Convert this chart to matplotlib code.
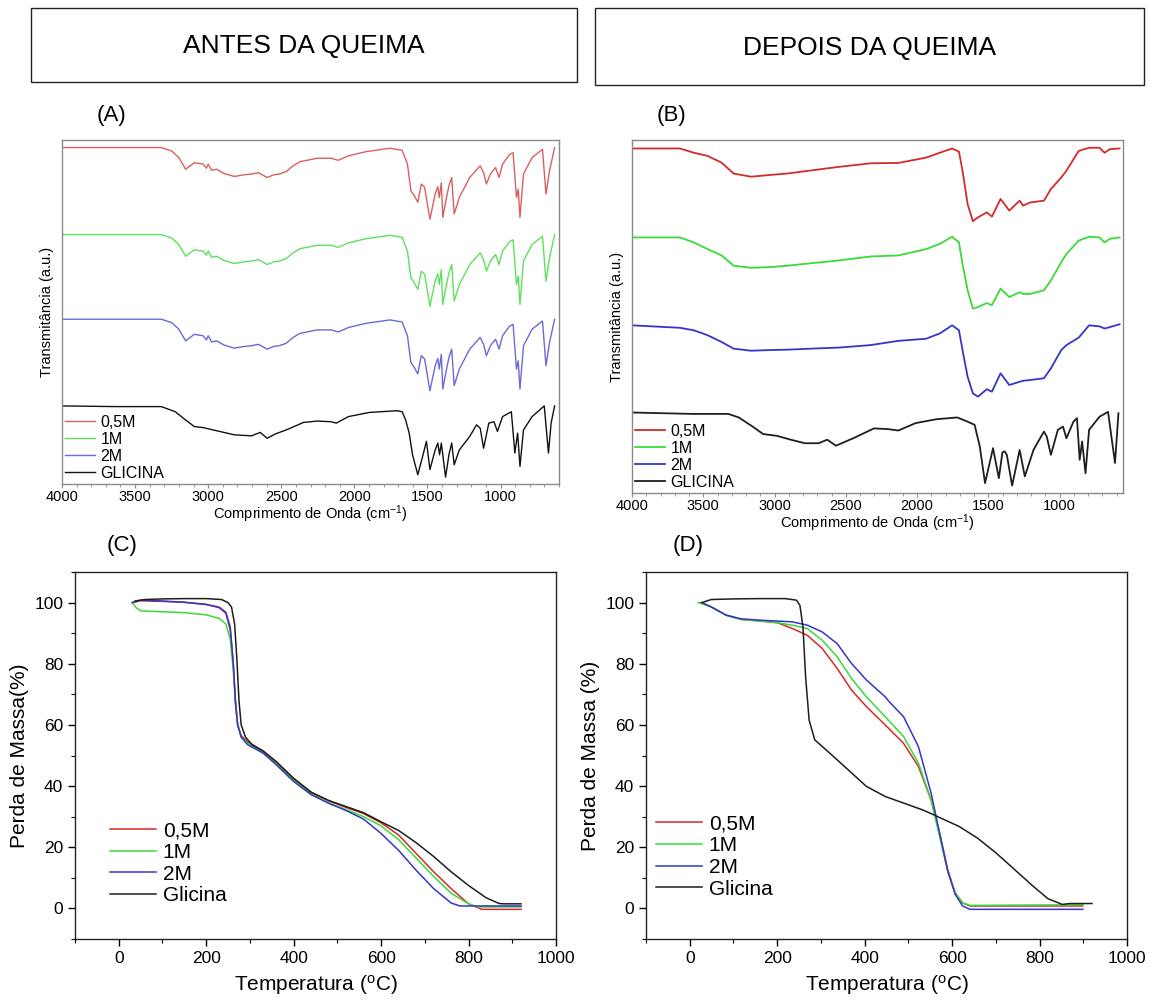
import matplotlib
matplotlib.use("Agg")
import matplotlib.pyplot as plt
from matplotlib.patches import Rectangle
from matplotlib.ticker import MultipleLocator, NullLocator

plt.rcParams['font.family'] = ['Liberation Sans', 'DejaVu Sans']
plt.rcParams['mathtext.fontset'] = 'custom'
plt.rcParams['mathtext.rm'] = 'Liberation Sans'
plt.rcParams['mathtext.it'] = 'Liberation Sans:italic'

# ---------------- data ----------------
series_labels_ftir = ['0,5M', '1M', '2M', 'GLICINA']
series_labels_tga = ['0,5M', '1M', '2M', 'Glicina']

# Panel A (antes da queima) - FTIR, arbitrary units
wn_A = [4000, 3320, 3249, 3201, 3154, 3095, 3035, 3012, 3000, 2976, 2941, 2893, 2822, 2751, 2704,
        2656, 2597, 2550, 2514, 2467, 2419, 2372, 2253, 2159, 2111, 2040, 1922, 1756, 1673, 1637,
        1613, 1590, 1566, 1542, 1519, 1483, 1447, 1429, 1419, 1405, 1395, 1376, 1353, 1334, 1317,
        1282, 1211, 1139, 1116, 1097, 1069, 1034, 1010, 986, 938, 914, 891, 879, 867, 843, 784,
        713, 689, 665, 630]
red_A = [97.8, 97.8, 96.8, 94.9, 91.5, 93.4, 93.0, 91.8, 93.0, 91.2, 91.5, 90.3, 89.4, 89.9, 90.1,
         90.5, 89.1, 89.9, 90.1, 90.8, 92.5, 93.7, 94.7, 94.7, 94.1, 95.4, 96.6, 97.6, 97.0, 93.0,
         85.2, 83.8, 81.9, 87.2, 86.2, 77.0, 84.3, 86.4, 83.3, 87.6, 77.5, 81.9, 86.7, 89.1, 78.5,
         83.3, 89.1, 92.5, 90.5, 87.2, 90.1, 92.0, 89.1, 93.0, 95.8, 96.3, 83.3, 85.7, 77.5, 90.1,
         94.9, 97.3, 84.3, 91.0, 97.8]
green_A = [72.5, 72.5, 71.5, 69.6, 66.2, 68.1, 67.7, 66.5, 67.7, 65.9, 66.2, 65.0, 64.1, 64.6, 64.8,
           65.2, 63.8, 64.6, 64.8, 65.5, 67.2, 68.4, 69.4, 69.4, 68.8, 70.1, 71.3, 72.3, 71.7, 67.7,
           59.9, 58.5, 56.6, 61.9, 60.9, 51.7, 59.0, 61.1, 58.0, 62.3, 52.2, 56.6, 61.4, 63.8, 53.2,
           58.0, 63.8, 67.2, 65.2, 61.9, 64.8, 66.7, 63.8, 67.7, 70.5, 71.0, 58.0, 60.4, 52.2, 64.8,
           69.6, 72.0, 59.0, 65.7, 72.5]
blue_A = [47.9, 47.9, 46.9, 45.0, 41.6, 43.5, 43.1, 41.9, 43.1, 41.3, 41.6, 40.4, 39.5, 40.0, 40.2,
          40.6, 39.2, 40.0, 40.2, 40.9, 42.6, 43.8, 44.8, 44.8, 44.2, 45.5, 46.7, 47.7, 47.1, 43.1,
          35.3, 33.9, 32.0, 37.3, 36.3, 27.1, 34.4, 36.5, 33.4, 37.7, 27.6, 32.0, 36.8, 39.2, 28.6,
          33.4, 39.2, 42.6, 40.6, 37.3, 40.2, 42.1, 39.2, 43.1, 45.9, 46.4, 33.4, 35.8, 27.6, 40.2,
          45.0, 47.4, 34.4, 41.1, 47.9]
wn_gly_A = [4000, 3628, 3320, 3225, 3154, 3095, 3035, 2964, 2893, 2822, 2704, 2644, 2597, 2538, 2467,
            2348, 2253, 2159, 2123, 2040, 1898, 1708, 1673, 1649, 1625, 1602, 1566, 1530, 1507, 1483,
            1447, 1429, 1417, 1405, 1376, 1353, 1334, 1317, 1282, 1211, 1164, 1139, 1116, 1080, 1045,
            1021, 986, 926, 902, 883, 867, 843, 784, 701, 672, 654, 630]
gly_A = [22.7, 22.5, 22.5, 21.0, 18.6, 16.7, 16.4, 15.7, 15.0, 14.3, 14.0, 15.0, 13.3, 14.6, 15.7,
         17.9, 18.3, 18.1, 17.7, 19.6, 20.8, 21.3, 21.0, 18.6, 14.8, 8.5, 2.7, 8.5, 12.4, 4.2,
         9.9, 11.9, 8.5, 11.9, 2.0, 8.5, 11.9, 5.6, 9.9, 13.8, 17.2, 16.2, 10.4, 17.7, 18.1,
         15.3, 19.6, 21.0, 9.0, 14.8, 5.1, 15.7, 19.6, 22.7, 9.0, 17.7, 22.7]

# Panel B (depois da queima) - FTIR
wn_B = [4000, 3664, 3567, 3470, 3372, 3287, 3165, 3032, 2910, 2740, 2545, 2326, 2131, 1937, 1840,
        1754, 1706, 1681, 1645, 1608, 1572, 1511, 1475, 1414, 1353, 1280, 1256, 1207, 1110, 1061,
        988, 952, 866, 793, 720, 684, 647, 579]
red_B = [97.6, 97.6, 96.4, 95.5, 93.6, 90.5, 89.6, 90.1, 90.5, 91.4, 92.4, 93.4, 93.5, 95.0, 96.4,
         97.6, 96.7, 91.3, 81.8, 77.0, 78.1, 79.5, 78.3, 83.3, 80.0, 82.8, 81.4, 82.3, 82.8, 86.1,
         89.4, 91.3, 96.9, 97.8, 97.8, 96.4, 97.4, 97.6]
green_B = [72.4, 72.4, 71.0, 69.1, 67.3, 64.4, 63.8, 64.0, 64.4, 65.1, 65.9, 67.0, 67.3, 69.1, 70.6,
           72.6, 71.0, 64.9, 57.4, 52.2, 52.7, 53.8, 53.2, 57.9, 55.5, 56.9, 56.4, 56.4, 57.4, 60.2,
           65.4, 67.7, 71.5, 72.6, 72.4, 71.0, 72.0, 72.4]
blue_B = [47.5, 46.8, 46.1, 44.7, 42.8, 40.9, 40.3, 40.5, 40.6, 40.9, 41.2, 41.9, 43.1, 43.7, 45.2,
          47.5, 46.1, 40.5, 32.9, 28.2, 27.3, 29.4, 28.7, 33.9, 30.6, 31.5, 31.8, 32.0, 32.5, 35.3,
          40.5, 41.9, 44.0, 47.5, 47.2, 46.6, 47.0, 47.8]
wn_gly_B = [4000, 3567, 3324, 3251, 3153, 3080, 2983, 2886, 2788, 2691, 2630, 2569, 2448, 2302, 2204,
            2131, 2010, 1864, 1718, 1645, 1596, 1560, 1523, 1467, 1426, 1401, 1385, 1370, 1333, 1280,
            1244, 1183, 1110, 1090, 1061, 1012, 976, 952, 903, 878, 859, 842, 818, 793, 720,
            660, 611, 587]
gly_B = [22.8, 22.4, 22.4, 21.4, 18.8, 16.7, 16.2, 15.1, 14.1, 14.1, 15.1, 13.4, 15.5, 18.3, 18.1,
         17.7, 19.8, 20.9, 21.4, 20.2, 19.3, 13.2, 2.8, 12.7, 4.2, 11.5, 11.8, 10.8, 2.1, 12.2,
         4.7, 12.2, 17.4, 16.0, 10.8, 17.9, 18.8, 15.5, 20.2, 21.2, 9.4, 14.6, 5.6, 17.9, 21.6,
         23.0, 8.5, 22.6]

# Panel C (antes da queima) - TGA
T_C_red = [31, 50, 100, 150, 200, 230, 245, 255, 262, 267, 272, 280, 295, 330, 360, 400, 440, 480,
           520, 560, 600, 640, 680, 720, 760, 800, 830, 920]
M_C_red = [100, 100.6, 100.4, 100.1, 99.4, 98.3, 96.5, 91, 80, 68, 60, 56.5, 54.5, 51.5, 48, 42.5,
           38, 35.2, 33, 31, 28, 24, 18, 12, 6.5, 1.5, -0.3, -0.3]
T_C_green = [31, 40, 50, 100, 150, 200, 230, 245, 255, 262, 267, 272, 280, 295, 330, 360, 400, 440,
             480, 520, 560, 600, 640, 680, 720, 760, 800, 820, 920]
M_C_green = [100, 98.3, 97.3, 97.0, 96.7, 96.0, 94.8, 93.0, 88, 78, 67, 60, 56, 54, 51, 47.5, 42,
             37.5, 34.5, 32.3, 30.0, 27, 22.5, 16.5, 10.5, 5, 1.5, 0.5, 0.5]
T_C_blue = [31, 50, 100, 150, 200, 230, 245, 255, 262, 267, 272, 280, 295, 330, 360, 400, 440, 480,
            520, 560, 600, 640, 680, 720, 760, 780, 920]
M_C_blue = [100, 100.8, 100.5, 100.1, 99.4, 98.5, 96.8, 92, 80, 67, 60, 56, 53.5, 50.8, 47, 41.5,
            37.2, 34.4, 32, 29.2, 24.5, 19, 12.5, 6.5, 1.8, 0.8, 0.8]
T_C_gly = [37, 60, 100, 150, 200, 235, 250, 258, 265, 270, 275, 280, 290, 305, 330, 360, 400, 440,
           480, 520, 560, 600, 640, 680, 720, 760, 800, 840, 870, 880, 920]
M_C_gly = [100.5, 101.0, 101.2, 101.3, 101.3, 101.0, 100.0, 98.5, 93, 82, 68, 60, 56, 53.5, 51.5,
           48, 42.5, 38, 35.3, 33.3, 31.3, 28.3, 25.5, 21.5, 17, 12, 7.5, 3.5, 1.6, 1.5, 1.5]

# Panel D (depois da queima) - TGA
T_D_red = [24, 49, 83, 117, 167, 201, 235, 269, 303, 337, 370, 404, 447, 489, 523, 552, 573, 590,
           607, 624, 641, 899]
M_D_red = [100, 98.6, 95.9, 94.5, 93.9, 93.4, 91.5, 89.3, 85.0, 78.5, 71.4, 66.0, 60.0, 54.0, 46.4,
           35.5, 23.6, 12.7, 5.1, 1.8, 0.8, 0.8]
T_D_green = [19, 49, 83, 117, 167, 201, 235, 269, 303, 337, 370, 404, 447, 489, 523, 552, 573, 590,
             607, 624, 641, 899]
M_D_green = [100, 98.6, 95.9, 94.5, 93.9, 93.4, 92.6, 91.5, 87.7, 82.3, 75.2, 69.2, 62.7, 56.2, 47.5,
             35.5, 22.5, 12.2, 5.1, 1.8, 1.0, 1.2]
T_D_blue = [28, 49, 83, 117, 167, 235, 269, 303, 337, 370, 404, 447, 456, 489, 523, 552, 573, 590,
            607, 624, 641, 899]
M_D_blue = [100, 98.6, 95.9, 94.7, 94.2, 93.7, 92.6, 90.4, 86.6, 80.1, 74.7, 69.2, 67.6, 62.7, 52.9,
            37.7, 23.6, 12.2, 4.6, 0.8, -0.3, -0.3]
T_D_gly = [28, 49, 100, 160, 218, 244, 252, 259, 265, 273, 286, 320, 354, 404, 447, 531, 552, 616,
           658, 700, 743, 785, 819, 852, 869, 920]
M_D_gly = [100, 101, 101.2, 101.3, 101.3, 100.8, 99.1, 92, 75.8, 61.6, 55.1, 50.8, 46.4, 39.9, 36.6,
           32.3, 31.0, 26.8, 23.0, 18.2, 12.7, 7.3, 3.2, 1.3, 1.6, 1.6]

colors = ['#d42a2a', '#3ada3a', '#3535c8', '#1e1e1e']
colors_A = ['#d96060', '#5ee05e', '#6a6ad8', '#111111']

# ---------------- layout ----------------
W, H = 1150, 1001
fig = plt.figure(figsize=(W / 100, H / 100), dpi=100)


def rect(l, t, r, b):
    return [l / W, 1 - b / H, (r - l) / W, (b - t) / H]


def fx(x):
    return x / W


def fy(y):
    return 1 - y / H


# header boxes
for (l, t, r, b, txt) in [(31, 8, 577, 82, 'ANTES DA QUEIMA'), (595, 8, 1144, 85, 'DEPOIS DA QUEIMA')]:
    fig.patches.append(Rectangle((fx(l), fy(b)), (r - l) / W, (b - t) / H, transform=fig.transFigure,
                                 fill=False, edgecolor='#222222', linewidth=1.0))
    fig.text(fx((l + r) / 2), fy((t + b) / 2 + 1), txt, ha='center', va='center', fontsize=19)

for (x, y, s) in [(112, 115, '(A)'), (671, 115, '(B)'), (122, 545, '(C)'), (688, 545, '(D)')]:
    fig.text(fx(x), fy(y), s, ha='center', va='center', fontsize=16)


def ftir_axes(r, xlim):
    ax = fig.add_axes(r)
    ax.set_xlim(*xlim)
    ax.set_ylim(0, 100)
    for s in ax.spines.values():
        s.set_color('#8a8a8a')
        s.set_linewidth(1.0)
    ax.yaxis.set_major_locator(NullLocator())
    ax.xaxis.set_major_locator(MultipleLocator(500))
    ax.xaxis.set_minor_locator(MultipleLocator(100))
    ax.tick_params(axis='x', which='major', direction='out', length=3, width=0.8, color='#8a8a8a',
                   labelsize=10.5, pad=1.5)
    ax.tick_params(axis='x', which='minor', direction='out', length=1.8, width=0.6, color='#8a8a8a')
    ax.set_xlabel('Comprimento de Onda (cm$^{-1}$)', fontsize=10.5, labelpad=-0.5)
    ax.set_ylabel('Transmitância (a.u.)', fontsize=10.5, labelpad=6)
    return ax


leg_ftir = dict(loc='lower left', bbox_to_anchor=(0.0, 0.0), frameon=False, fontsize=11.5,
                handlelength=1.85, handletextpad=0.35, labelspacing=0.12, borderaxespad=0.1,
                borderpad=0.1)

axA = ftir_axes(rect(62, 140, 559, 484), (4000, 600))
for wn, vals, c, lab in [(wn_A, red_A, colors_A[0], series_labels_ftir[0]),
                         (wn_A, green_A, colors_A[1], series_labels_ftir[1]),
                         (wn_A, blue_A, colors_A[2], series_labels_ftir[2]),
                         (wn_gly_A, gly_A, colors_A[3], series_labels_ftir[3])]:
    axA.plot(wn, vals, color=c, lw=1.0, label=lab)
axA.legend(**leg_ftir)

axB = ftir_axes(rect(632, 140, 1123, 493), (4000, 555))
for wn, vals, c, lab in [(wn_B, red_B, colors[0], series_labels_ftir[0]),
                         (wn_B, green_B, colors[1], series_labels_ftir[1]),
                         (wn_B, blue_B, colors[2], series_labels_ftir[2]),
                         (wn_gly_B, gly_B, colors[3], series_labels_ftir[3])]:
    axB.plot(wn, vals, color=c, lw=1.3, label=lab)
axB.legend(**leg_ftir)


def tga_axes(r, ylabel):
    ax = fig.add_axes(r)
    ax.set_xlim(-100, 1000)
    ax.set_ylim(-10, 110)
    for s in ax.spines.values():
        s.set_color('#222222')
        s.set_linewidth(1.0)
    ax.xaxis.set_major_locator(MultipleLocator(200))
    ax.xaxis.set_minor_locator(MultipleLocator(100))
    ax.yaxis.set_major_locator(MultipleLocator(20))
    ax.yaxis.set_minor_locator(MultipleLocator(10))
    ax.set_yticks([0, 20, 40, 60, 80, 100])
    ax.tick_params(which='major', direction='out', length=5, width=1.0, labelsize=12.5)
    ax.tick_params(which='minor', direction='out', length=3, width=0.8)
    ax.set_xlabel('Temperatura ($^{\\mathrm{o}}$C)', fontsize=15, labelpad=5)
    ax.set_ylabel(ylabel, fontsize=15, labelpad=4)
    return ax


leg_tga = dict(loc='lower left', frameon=False, fontsize=15, handlelength=2.2, handletextpad=0.33,
               labelspacing=0.13, borderaxespad=0, borderpad=0)

axC = tga_axes(rect(75, 572, 556, 939), 'Perda de Massa(%)')
for T, M, c, lab in [(T_C_red, M_C_red, colors[0], series_labels_tga[0]),
                     (T_C_green, M_C_green, colors[1], series_labels_tga[1]),
                     (T_C_blue, M_C_blue, colors[2], series_labels_tga[2]),
                     (T_C_gly, M_C_gly, colors[3], series_labels_tga[3])]:
    axC.plot(T, M, color=c, lw=1.1, label=lab)
axC.legend(bbox_to_anchor=(0.073, 0.092), **leg_tga)

axD = tga_axes(rect(646, 572, 1127, 939), 'Perda de Massa (%)')
for T, M, c, lab in [(T_D_red, M_D_red, colors[0], series_labels_tga[0]),
                     (T_D_green, M_D_green, colors[1], series_labels_tga[1]),
                     (T_D_blue, M_D_blue, colors[2], series_labels_tga[2]),
                     (T_D_gly, M_D_gly, colors[3], series_labels_tga[3])]:
    axD.plot(T, M, color=c, lw=1.1, label=lab)
axD.legend(bbox_to_anchor=(0.021, 0.11), **leg_tga)

fig.savefig('out.png', dpi=100, facecolor='white')
